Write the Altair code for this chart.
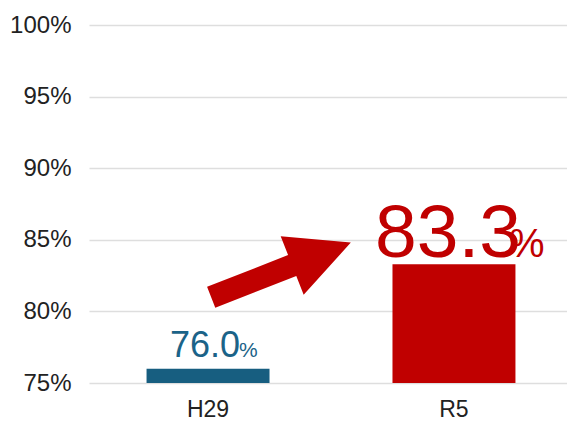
import altair as alt
import pandas as pd

categories = ["H29", "R5"]
values = [76.0, 83.3]
label_texts = ["76.0", "83.3"]
bar_colors = ["#175E80", "#C00000"]
y_ticks = [75, 80, 85, 90, 95, 100]
arrow_cat = ["H29"]
arrow_val = [80.9]

FONT = "Liberation Sans"

df = pd.DataFrame({"cat": categories, "v": values, "lab": label_texts, "col": bar_colors, "pct": ["%", "%"]})
arrow_df = pd.DataFrame({"cat": arrow_cat, "v": arrow_val})

x_scale = alt.Scale(paddingInner=0.5, paddingOuter=0.234, range=[0, 484])
x_enc = alt.X("cat:N", sort=categories, scale=x_scale,
              axis=alt.Axis(title=None, labelAngle=0, labelFont=FONT, labelFontSize=23,
                            labelColor="#222222", labelPadding=15, ticks=False, domain=False, grid=False))
y_scale = alt.Scale(domain=[75, 100], zero=False, nice=False)
y_enc = alt.Y("v:Q", scale=y_scale,
              axis=alt.Axis(title=None, values=y_ticks, labelExpr="datum.value + '%'",
                            labelFont=FONT, labelFontSize=24, labelColor="#222222",
                            labelPadding=18, ticks=False, domain=False,
                            gridColor="#dedede", gridWidth=1.6))
x_plain = alt.X("cat:N", sort=categories, scale=x_scale)
y_plain = alt.Y("v:Q", scale=y_scale)

base = alt.Chart(df)

bars = base.mark_bar().encode(
    x=x_enc, y=y_enc, y2=alt.datum(75),
    color=alt.Color("col:N", scale=None),
)

def labels(cat, size, psize, dx, pdx, dy, color):
    b = base.transform_filter(alt.datum.cat == cat)
    num = b.mark_text(font=FONT, fontSize=size, baseline="alphabetic", align="center",
                      dx=dx, dy=dy, color=color).encode(x=x_plain, y=y_plain, text="lab:N")
    pct = b.mark_text(font=FONT, fontSize=psize, baseline="alphabetic", align="left",
                      dx=pdx, dy=dy, color=color).encode(x=x_plain, y=y_plain, text="pct:N")
    return num + pct

lab1 = labels("H29", 36, 21, -3, 31, -12, "#1B6388")
lab2 = labels("R5", 75, 40, -6, 55, -7, "#C00000")

# arrow shape (unit = half of sqrt(size) px), shifted forward along its own axis
shift = 1.045
arrow_path = ("M {a} -0.15 L {b} -0.15 L {b} -0.42 L {c} 0 L {b} 0.42 L {b} 0.15 L {a} 0.15 Z"
              .format(a=-1 + shift, b=0.16 + shift, c=1 + shift))
arrow = alt.Chart(arrow_df).mark_point(
    shape=arrow_path, filled=True, size=22500, angle=338.6,
    color="#C00000", opacity=1, strokeWidth=0,
).encode(x=x_plain, y=y_plain)

chart = alt.layer(bars, lab1, lab2, arrow).properties(
    width=478, height=358,
    background="white",
    autosize=alt.AutoSizeParams(type="none"),
    padding={"left": 81, "top": 17, "right": 0, "bottom": 37},
).configure_view(stroke=None, strokeWidth=0).configure_axis(
    domain=False, ticks=False).configure_axisX(grid=False)

chart.save("out.html", embed_options={"renderer": "svg", "actions": False})
